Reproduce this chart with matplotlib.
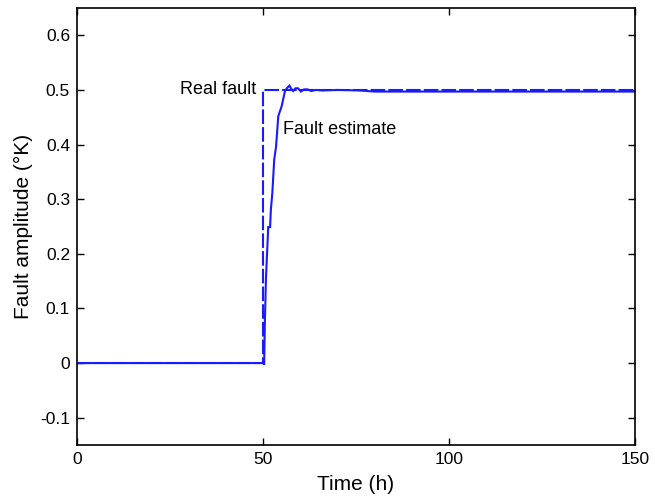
import matplotlib
matplotlib.use("Agg")
import matplotlib.pyplot as plt

plt.rcParams['font.family'] = ['Liberation Sans', 'DejaVu Sans']

# Real (injected) fault: step of 0.5 K at t = 50 h
real_t = [0, 50, 50, 150]
real_v = [0, 0, 0.5, 0.5]

# Estimated fault amplitude
est_t = [0, 50.0, 50.3, 50.5, 50.8, 51.4, 51.9, 52.1, 52.5, 53.0, 53.5,
         54.1, 55.0, 55.9, 56.4, 57.1, 57.6, 58.1, 58.7, 59.4, 60.2,
         61.0, 62.0, 63.0, 64.2, 66.0, 70.0, 76.0, 80.0, 150.0]
est_v = [0, 0, -0.003, 0.077, 0.157, 0.249, 0.249, 0.280, 0.311, 0.372,
         0.396, 0.452, 0.470, 0.498, 0.503, 0.508, 0.502, 0.498, 0.503,
         0.503, 0.497, 0.501, 0.501, 0.498, 0.500, 0.499, 0.500, 0.499,
         0.497, 0.497]

xticks = [0, 50, 100, 150]
yticks = [-0.1, 0, 0.1, 0.2, 0.3, 0.4, 0.5, 0.6]

fig = plt.figure(figsize=(6.55, 5.03), dpi=100)
ax = fig.add_axes([0.1176, 0.1153, 0.8519, 0.8688])

blue = '#1a1aff'
ax.plot(est_t, est_v, color=blue, lw=1.5, solid_joinstyle='miter')
ax.plot(real_t, real_v, color=blue, lw=1.5, dashes=(7, 1.5))

ax.set_xlim(0, 150)
ax.set_ylim(-0.15, 0.65)
ax.set_xticks(xticks)
ax.set_xticklabels([str(t) for t in xticks])
ax.set_yticks(yticks)
ax.set_yticklabels(['-0.1', '0', '0.1', '0.2', '0.3', '0.4', '0.5', '0.6'])
ax.tick_params(direction='in', top=True, right=True, length=5, width=1,
               labelsize=12.5, pad=5)
for s in ax.spines.values():
    s.set_linewidth(1.2)

ax.set_xlabel('Time (h)', fontsize=15, labelpad=6)
ax.set_ylabel('Fault amplitude (°K)', fontsize=15, labelpad=5)

ax.text(48.1, 0.5, 'Real fault', fontsize=13, ha='right', va='center')
ax.text(55.4, 0.427, 'Fault estimate', fontsize=13, ha='left', va='center')

fig.savefig('out.png', dpi=100)
